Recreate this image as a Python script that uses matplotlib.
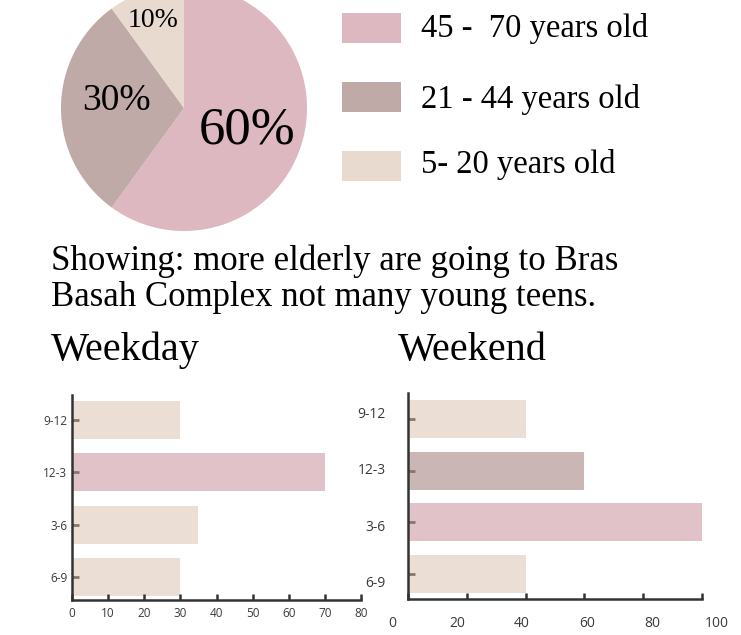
import matplotlib
matplotlib.use("Agg")
import matplotlib.pyplot as plt
from matplotlib.patches import Rectangle

# data
age_labels = ["45 -  70 years old", "21 - 44 years old", "5- 20 years old"]
age_share = [60, 30, 10]
pie_colors = ["#DDB8C0", "#C0AAA8", "#E8DACE"]

time_slots = ["9-12", "12-3", "3-6", "6-9"]
weekday_values = [30, 70, 35, 30]
weekday_colors = ["#E8DACE", "#DDB8C0", "#E8DACE", "#E8DACE"]
weekday_ticks = list(range(0, 81, 10))

weekend_values = [40, 60, 100, 40]
weekend_colors = ["#E8DACE", "#C0AAA8", "#DDB8C0", "#E8DACE"]
weekend_ticks = list(range(0, 101, 20))

note_lines = ["Showing: more elderly are going to Bras",
              "Basah Complex not many young teens."]

SERIF = "Liberation Serif"
SANS = "Open Sans"
W, H = 741, 635


def fx(px):
    return px / W


def fy(py):
    return 1 - py / H


fig = plt.figure(figsize=(W / 100, H / 100), dpi=100)

# pie
axp = fig.add_axes([fx(61), fy(231), 246 / W, 246 / H])
axp.pie(age_share, colors=pie_colors, startangle=90, counterclock=False,
        wedgeprops=dict(linewidth=0))
axp.set_xlim(-1, 1)
axp.set_ylim(-1, 1)
pie_label_pos = [(0.51, -0.18, 38), (-0.55, 0.06, 27), (-0.25, 0.71, 20)]
for v, (x, y, s) in zip(age_share, pie_label_pos):
    axp.text(x, y, f"{v}%", ha="center", va="center", fontsize=s,
             family=SERIF, color="black")

# legend
legend_rows = [(13, 37), (82, 108), (151, 173)]
for lab, c, (top, base) in zip(age_labels, pie_colors, legend_rows):
    fig.add_artist(Rectangle((fx(342), fy(top + 30)), 59 / W, 30 / H,
                             transform=fig.transFigure, color=c, lw=0))
    fig.text(fx(421), fy(base), lab, fontsize=23.5, family=SERIF,
             va="baseline", ha="left")

# note and titles
fig.text(fx(51), fy(270), note_lines[0], fontsize=25, family=SERIF, va="baseline")
fig.text(fx(51), fy(306), note_lines[1], fontsize=25, family=SERIF, va="baseline")
fig.text(fx(51), fy(360), "Weekday", fontsize=29, family=SERIF, va="baseline")
fig.text(fx(398), fy(360), "Weekend", fontsize=29, family=SERIF, va="baseline")

ypos = [3, 2, 1, 0]


def style_axis(ax):
    for s in ["top", "right"]:
        ax.spines[s].set_visible(False)
    for s in ["left", "bottom"]:
        ax.spines[s].set_linewidth(1.8)
        ax.spines[s].set_color("#333333")
    ax.tick_params(axis="x", direction="in", length=4, width=1.8, color="#333333")
    ax.tick_params(axis="y", direction="in", length=5, width=2, color="#85766f")


# weekday
ax1 = fig.add_axes([fx(72), fy(600), (361 - 72) / W, (600 - 395) / H])
ax1.barh(ypos, weekday_values, height=0.73, color=weekday_colors, alpha=0.85)
ax1.set_xlim(0, 80)
ax1.set_ylim(-0.44, 3.48)
ax1.set_xticks(weekday_ticks)
ax1.set_yticks(ypos)
ax1.set_yticklabels(time_slots)
style_axis(ax1)
ax1.tick_params(axis="x", labelsize=8.5, pad=5, labelcolor="#3a3a3a")
ax1.tick_params(axis="y", labelsize=8.5, pad=3.5, labelcolor="#3a3a3a")
for t in ax1.get_xticklabels() + ax1.get_yticklabels():
    t.set_family(SANS)

# weekend
ax2 = fig.add_axes([fx(408), fy(599), (702 - 408) / W, (599 - 393) / H])
ax2.barh(ypos, weekend_values, height=0.735, color=weekend_colors, alpha=0.85)
ax2.set_xlim(0, 100)
ax2.set_ylim(-0.48, 3.50)
ax2.set_xticks(weekend_ticks)
ax2.set_yticks(ypos)
style_axis(ax2)
ax2.tick_params(labelbottom=False, labelleft=False)

# weekend labels sit slightly off the tick marks in the original
ax3 = fig.add_axes([fx(392), fy(610.3), (717 - 392) / W, (610.3 - 383.7) / H])
ax3.set_xlim(0, 100)
ax3.set_ylim(-0.5, 3.5)
ax3.set_xticks(weekend_ticks)
ax3.set_yticks(ypos)
ax3.set_yticklabels(time_slots)
ax3.patch.set_visible(False)
for s in ax3.spines.values():
    s.set_visible(False)
ax3.tick_params(length=0, labelsize=10, labelcolor="#3a3a3a")
ax3.tick_params(axis="x", pad=4)
ax3.tick_params(axis="y", pad=4.5)
for t in ax3.get_xticklabels() + ax3.get_yticklabels():
    t.set_family(SANS)

fig.savefig("out.png", dpi=100)
